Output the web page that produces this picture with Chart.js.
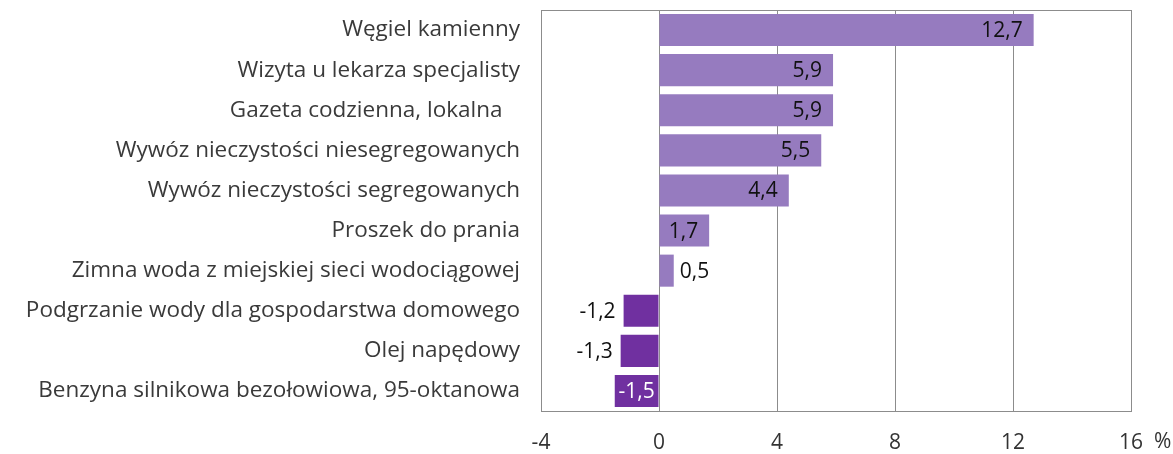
<!doctype html>
<html>

<head>
    <meta charset="utf-8">
    <title>Ceny - zmiany</title>
    <script src="https://cdn.jsdelivr.net/npm/chart.js@4/dist/chart.umd.min.js"></script>
    <style>
        html, body { margin: 0; padding: 0; background: #fff; }
        #container { width: 1173px; height: 454px; }
    </style>
</head>

<body>
    <div id="container">
        <canvas id="canvas"></canvas>
    </div>
    <script>
        var kategorie = ["Węgiel kamienny",
            "Wizyta u lekarza specjalisty",
            "Gazeta codzienna, lokalna   ",
            "Wywóz nieczystości niesegregowanych",
            "Wywóz nieczystości segregowanych",
            "Proszek do prania",
            "Zimna woda z miejskiej sieci wodociągowej",
            "Podgrzanie wody dla gospodarstwa domowego",
            "Olej napędowy",
            "Benzyna silnikowa bezołowiowa, 95-oktanowa"];
        var zmiany = [12.7, 5.9, 5.9, 5.5, 4.4, 1.7, 0.5, -1.2, -1.3, -1.5];
        var osX = [-4, 0, 4, 8, 12, 16];

        var FONT = '"Open Sans", sans-serif';

        // etykiety wartosci + ramka + znak %
        var etykiety = {
            id: 'etykiety',
            afterDatasetsDraw: function (chart) {
                var ctx = chart.ctx;
                var area = chart.chartArea;
                ctx.save();
                ctx.strokeStyle = '#8c8c8c';
                ctx.lineWidth = 1;
                ctx.strokeRect(area.left + 0.5, area.top + 0.5, area.right - area.left, area.bottom - area.top);

                ctx.font = '21px ' + FONT;
                ctx.textBaseline = 'middle';
                var meta = chart.getDatasetMeta(0);
                meta.data.forEach(function (bar, i) {
                    var v = zmiany[i];
                    var txt = v.toFixed(1).replace('.', ',');
                    var w = ctx.measureText(txt).width;
                    var len = Math.abs(bar.x - bar.base);
                    var y = bar.y + 1;
                    if (v >= 0) {
                        ctx.fillStyle = '#111';
                        if (len >= w + 16) {
                            ctx.textAlign = 'right';
                            ctx.fillText(txt, bar.x - 11, y);
                        } else {
                            ctx.textAlign = 'left';
                            ctx.fillText(txt, bar.x + 6, y);
                        }
                    } else {
                        if (len >= w + 2) {
                            ctx.fillStyle = '#fff';
                            ctx.textAlign = 'center';
                            ctx.fillText(txt, (bar.x + bar.base) / 2, y);
                        } else {
                            ctx.fillStyle = '#111';
                            ctx.textAlign = 'right';
                            ctx.fillText(txt, bar.x - 8, y);
                        }
                    }
                });

                // "%" po ostatniej wartosci osi
                var sx = chart.scales.x;
                var px = sx.getPixelForValue(osX[osX.length - 1]);
                ctx.fillStyle = '#333';
                ctx.textAlign = 'left';
                ctx.fillText('%', px + 23, area.bottom + 31);
                ctx.restore();
            }
        };

        window.onload = function () {
            var ctx = document.getElementById('canvas').getContext('2d');
            window.myBar = new Chart(ctx, {
                type: 'bar',
                data: {
                    labels: kategorie,
                    datasets: [{
                        data: zmiany,
                        backgroundColor: zmiany.map(function (v) { return v < 0 ? '#7030a0' : '#967bbf'; }),
                        borderWidth: 0,
                        barPercentage: 0.8,
                        categoryPercentage: 1.0
                    }]
                },
                options: {
                    indexAxis: 'y',
                    responsive: true,
                    maintainAspectRatio: false,
                    animation: false,
                    layout: { padding: { top: 10, right: 42, left: 0, bottom: 0 } },
                    plugins: {
                        legend: { display: false },
                        title: { display: false },
                        tooltip: { enabled: false }
                    },
                    scales: {
                        x: {
                            min: osX[0],
                            max: osX[osX.length - 1],
                            afterBuildTicks: function (scale) {
                                scale.ticks = osX.map(function (v) { return { value: v }; });
                            },
                            afterFit: function (scale) {
                                scale.height = 43;
                                scale.paddingLeft = 0;
                                scale.paddingRight = 0;
                            },
                            grid: { color: '#8c8c8c', lineWidth: 1, drawTicks: false },
                            border: { display: true, color: '#8c8c8c' },
                            ticks: {
                                padding: 19,
                                color: '#333',
                                font: { family: FONT, size: 21 },
                                maxRotation: 0
                            }
                        },
                        y: {
                            afterFit: function (scale) {
                                scale.width = 541;
                                scale.paddingTop = 0;
                                scale.paddingBottom = 0;
                            },
                            grid: { display: false, drawTicks: false },
                            border: { display: true, color: '#8c8c8c' },
                            ticks: {
                                padding: 21,
                                color: '#3a3a3a',
                                font: { family: FONT, size: 22.5 },
                                autoSkip: false
                            }
                        }
                    }
                },
                plugins: [etykiety]
            });
        };
    </script>
</body>

</html>
